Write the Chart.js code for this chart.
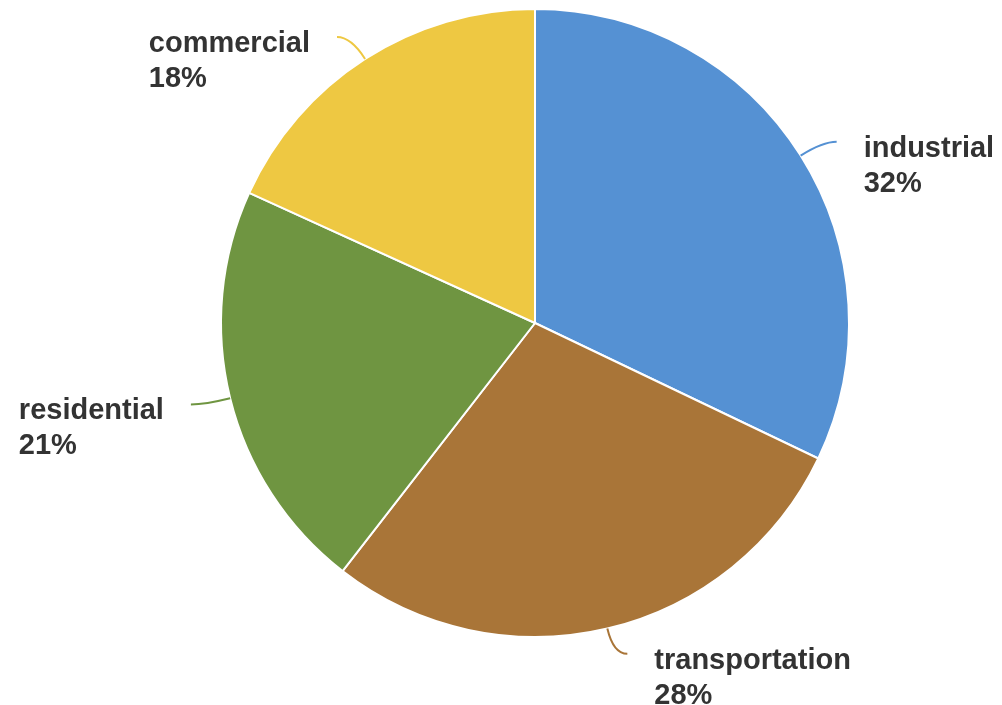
<!DOCTYPE html>
<html>
<head>
<meta charset="utf-8">
<script src="https://cdn.jsdelivr.net/npm/chart.js@4/dist/chart.umd.min.js"></script>
<style>
  html, body { margin: 0; padding: 0; background: #fff; }
  canvas { display: block; }
</style>
</head>
<body>
<canvas id="chart" width="1002" height="705"></canvas>
<script>
const sectors = ['industrial', 'transportation', 'residential', 'commercial'];
const shares = [32.1, 28.4, 21.3, 18.2];
const colors = ['#5591D3', '#A97538', '#6F9541', '#EEC842'];

// leader lines + two-line labels
const sideLabels = {
  id: 'sideLabels',
  afterDatasetsDraw(chart) {
    const ctx = chart.ctx;
    const meta = chart.getDatasetMeta(0);
    ctx.save();
    meta.data.forEach((arc, i) => {
      const mid = (arc.startAngle + arc.endAngle) / 2;
      const dx = Math.cos(mid), dy = Math.sin(mid);
      const r = arc.outerRadius;
      const sx = arc.x + dx * r, sy = arc.y + dy * r;
      const cx = arc.x + dx * (r + 26), cy = arc.y + dy * (r + 26);
      const right = dx >= 0;
      const ex = cx + (right ? 14 : -14), ey = cy;

      ctx.strokeStyle = colors[i];
      ctx.lineWidth = 2;
      ctx.beginPath();
      ctx.moveTo(sx, sy);
      ctx.quadraticCurveTo(cx, cy, ex, ey);
      ctx.stroke();

      ctx.fillStyle = '#333';
      ctx.font = 'bold 29px "Liberation Sans", Arial, sans-serif';
      ctx.textBaseline = 'alphabetic';
      ctx.textAlign = 'left';
      const w = ctx.measureText(sectors[i]).width;
      const tx = right ? ex + 27 : ex - 27 - w;
      const ty = ey + 15;
      ctx.fillText(sectors[i], tx, ty);
      ctx.fillText(Math.round(shares[i]) + '%', tx, ty + 35);
    });
    ctx.restore();
  }
};

new Chart(document.getElementById('chart'), {
  type: 'pie',
  data: {
    labels: sectors,
    datasets: [{
      data: shares,
      backgroundColor: colors,
      borderColor: '#fff',
      borderWidth: 2,
    }],
  },
  options: {
    responsive: false,
    animation: false,
    layout: {
      padding: { left: 220, right: 152, top: 8, bottom: 67 },
    },
    plugins: {
      legend: { display: false },
      tooltip: { enabled: false },
    },
  },
  plugins: [sideLabels],
});
</script>
</body>
</html>
